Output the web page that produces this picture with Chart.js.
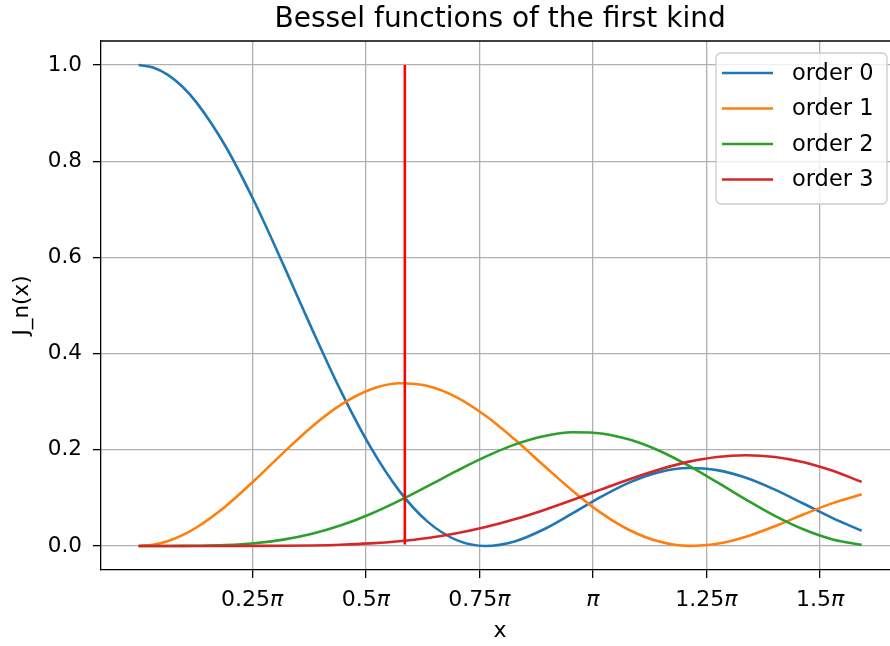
<!DOCTYPE html>
<html>
<head>
<meta charset="utf-8">
<script src="https://cdn.jsdelivr.net/npm/chart.js@4"></script>
<style>
    body { margin: 0; background: #fff; }
    #wrap { width: 890px; height: 646px; position: relative; }
</style>
</head>
<body>
<div id="wrap"><canvas id="besselChart"></canvas></div>
<script>
// ── DATA ──────────────────────────────────────────────────────
const xValues = [0.0, 0.1, 0.2, 0.3, 0.4, 0.6, 0.8, 1.0, 1.2, 1.4, 1.6, 1.8, 2.0, 2.2, 2.4,
                 2.6, 2.8, 3.0, 3.2, 3.4, 3.6, 3.8, 4.0, 4.2, 4.4, 4.6, 4.8, 5.0];

const order0 = [1.0000, 0.9950, 0.9801, 0.9558, 0.9224, 0.8317, 0.7162, 0.5855, 0.4504, 0.3213,
                0.2074, 0.1156, 0.0501, 0.0122, 0.0000, 0.0094, 0.0342, 0.0676, 0.1025, 0.1327,
                0.1535, 0.1621, 0.1577, 0.1418, 0.1171, 0.0877, 0.0578, 0.0315];
const order1 = [0.0000, 0.0025, 0.0099, 0.0220, 0.0384, 0.0822, 0.1360, 0.1936, 0.2483, 0.2937,
                0.3248, 0.3382, 0.3326, 0.3091, 0.2706, 0.2217, 0.1679, 0.1150, 0.0683, 0.0321,
                0.0091, 0.0002, 0.0044, 0.0192, 0.0411, 0.0658, 0.0891, 0.1073];
const order2 = [0.0000, 0.0000, 0.0000, 0.0001, 0.0004, 0.0019, 0.0057, 0.0132, 0.0254, 0.0430,
                0.0660, 0.0937, 0.1245, 0.1561, 0.1857, 0.2107, 0.2282, 0.2363, 0.2338, 0.2206,
                0.1979, 0.1675, 0.1326, 0.0964, 0.0625, 0.0341, 0.0135, 0.0022];
const order3 = [0.0000, 0.0000, 0.0000, 0.0000, 0.0000, 0.0000, 0.0001, 0.0004, 0.0011, 0.0026,
                0.0053, 0.0098, 0.0166, 0.0264, 0.0393, 0.0554, 0.0744, 0.0955, 0.1177, 0.1394,
                0.1590, 0.1748, 0.1851, 0.1887, 0.1850, 0.1740, 0.1562, 0.1331];

const seriesLabels = ['order 0', 'order 1', 'order 2', 'order 3'];
const seriesColors = ['#1f77b4', '#ff7f0e', '#2ca02c', '#d62728'];

// red marker line at the peak of order 1
const peakX = 1.841;
const peakLine = [0.003, 1.0];

// x ticks are multiples of pi
const xTickMultiples = [0.25, 0.5, 0.75, 1, 1.25, 1.5];
const xTickLabels = ['0.25π', '0.5π', '0.75π', 'π', '1.25π', '1.5π'];
const yTickValues = [0.0, 0.2, 0.4, 0.6, 0.8, 1.0];

const titleText = 'Bessel functions of the first kind';
const xLabel = 'x';
const yLabel = 'J_n(x)';

// ── CHART ─────────────────────────────────────────────────────
Chart.defaults.font.family = "'DejaVu Sans', sans-serif";
Chart.defaults.color = '#000';

function toPoints(ys) {
    return xValues.map((x, i) => ({ x: x, y: ys[i] }));
}

const allSeries = [order0, order1, order2, order3];
const datasets = allSeries.map((ys, i) => ({
    label: seriesLabels[i],
    data: toPoints(ys),
    borderColor: seriesColors[i],
    backgroundColor: seriesColors[i],
    borderWidth: 2.6,
    pointRadius: 0,
    cubicInterpolationMode: 'monotone',
    fill: false,
    order: 4 - i
}));
datasets.push({
    label: '',
    data: peakLine.map(y => ({ x: peakX, y: y })),
    borderColor: '#ff0000',
    borderWidth: 2.6,
    pointRadius: 0,
    tension: 0,
    order: 0
});

// title, x labels, top spine and matplotlib style legend box
const framePlugin = {
    id: 'frame',
    afterDraw(chart) {
        const { ctx, chartArea } = chart;
        const xs = chart.scales.x;
        // matplotlib centres on the full axes (-0.25 .. 5.25)
        const midX = xs.getPixelForValue(2.5);

        ctx.save();
        ctx.fillStyle = '#000';
        ctx.textAlign = 'center';
        ctx.textBaseline = 'alphabetic';
        ctx.font = "28px 'DejaVu Sans'";
        ctx.fillText(titleText, midX, 27);
        ctx.font = "22px 'DejaVu Sans'";
        ctx.fillText(xLabel, midX, 637);

        // x tick labels: number upright, pi italic like mathtext
        const numFont = "22px 'DejaVu Sans'";
        const piFont = "italic 22px 'DejaVu Sans'";
        ctx.textAlign = 'left';
        xTickLabels.forEach((lab, i) => {
            const num = lab.replace('π', '');
            const px = xs.getPixelForValue(xTickMultiples[i] * Math.PI);
            ctx.font = numFont;
            const wNum = ctx.measureText(num).width;
            ctx.font = piFont;
            const wPi = ctx.measureText('π').width;
            let x0 = px - (wNum + wPi) / 2;
            ctx.font = numFont;
            ctx.fillText(num, x0, 606);
            ctx.font = piFont;
            ctx.fillText('π', x0 + wNum, 606);
        });

        ctx.strokeStyle = '#000';
        ctx.lineWidth = 1.3;
        ctx.beginPath();
        ctx.moveTo(chartArea.left, chartArea.top);
        ctx.lineTo(chartArea.right, chartArea.top);
        ctx.stroke();

        const boxW = 171, boxH = 151;
        const bx = chartArea.right - 3 - boxW;
        const by = chartArea.top + 12;
        ctx.beginPath();
        ctx.roundRect(bx, by, boxW, boxH, 5);
        ctx.fillStyle = 'rgba(255,255,255,0.8)';
        ctx.fill();
        ctx.strokeStyle = '#cccccc';
        ctx.lineWidth = 1.3;
        ctx.stroke();

        ctx.font = "22.5px 'DejaVu Sans'";
        ctx.textBaseline = 'middle';
        ctx.textAlign = 'left';
        seriesLabels.forEach((lab, i) => {
            const y = by + 20 + i * 35.5;
            ctx.strokeStyle = seriesColors[i];
            ctx.lineWidth = 2.6;
            ctx.beginPath();
            ctx.moveTo(bx + 6, y);
            ctx.lineTo(bx + 57, y);
            ctx.stroke();
            ctx.fillStyle = '#000';
            ctx.fillText(lab, bx + 76, y + 1);
        });
        ctx.restore();
    }
};

new Chart(document.getElementById('besselChart'), {
    type: 'line',
    data: { datasets: datasets },
    options: {
        responsive: true,
        maintainAspectRatio: false,
        animation: false,
        layout: { padding: { top: 41, left: 0, right: 0, bottom: 0 } },
        plugins: {
            legend: { display: false },
            tooltip: { enabled: false },
            title: { display: false }
        },
        scales: {
            x: {
                type: 'linear',
                min: -0.26,
                max: 5.196,
                afterBuildTicks: scale => {
                    scale.ticks = xTickMultiples.map(m => ({ value: m * Math.PI }));
                },
                afterFit: scale => { scale.height = 76; },
                ticks: { display: false },
                grid: { color: '#b0b0b0', lineWidth: 1.3, tickColor: '#000', tickLength: 8, tickWidth: 1.3 },
                border: { color: '#000', width: 1.3 }
            },
            y: {
                type: 'linear',
                min: -0.05,
                max: 1.05,
                afterBuildTicks: scale => {
                    scale.ticks = yTickValues.map(v => ({ value: v }));
                },
                afterFit: scale => { scale.width = 101; },
                ticks: {
                    font: { size: 21.5 },
                    color: '#000',
                    padding: 11,
                    callback: v => v.toFixed(1)
                },
                grid: { color: '#b0b0b0', lineWidth: 1.3, tickColor: '#000', tickLength: 8, tickWidth: 1.3 },
                border: { color: '#000', width: 1.3 },
                title: { display: true, text: yLabel, font: { size: 21.5 }, color: '#000', padding: { top: 10, bottom: 0 } }
            }
        }
    },
    plugins: [framePlugin]
});
</script>
</body>
</html>
